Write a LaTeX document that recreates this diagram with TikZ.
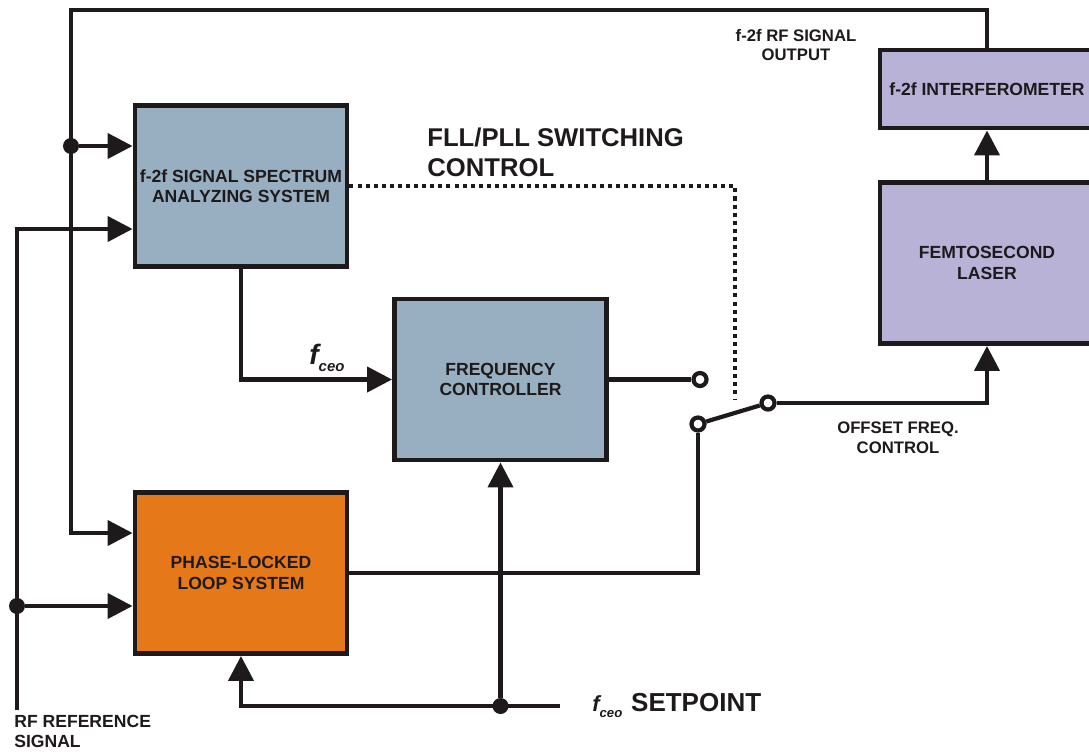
\documentclass[tikz,border=0pt]{standalone}
\usepackage{fontspec}
\setmainfont{Liberation Sans}
\usetikzlibrary{arrows.meta,calc,positioning}
\definecolor{inkc}{HTML}{1E1A1B}
\definecolor{bluebox}{HTML}{97AFC0}
\definecolor{orangebox}{HTML}{E57819}
\definecolor{lilacbox}{HTML}{B9B2D7}
\tikzset{
  blk/.style={rectangle, draw=inkc, line width=2.8pt, minimum width=4.24cm, minimum height=3.22cm, inner sep=1pt, align=center, text=inkc, font=\fontsize{10}{11.5}\selectfont\bfseries},
  sig/.style={draw=inkc, line width=2.4pt},
  arr/.style={sig, -{Triangle[length=0.5cm,width=0.5cm]}},
  swctl/.style={draw=inkc, line width=2.3pt, dash pattern=on 2.3pt off 2.3pt},
  dotv/.style={circle, fill=inkc, inner sep=0pt, minimum size=0.32cm},
  port/.style={circle, draw=inkc, fill=white, line width=2.4pt, inner sep=0pt, minimum size=0.26cm},
  lbl/.style={text=inkc, align=center, font=\fontsize{9.5}{11.3}\selectfont\bfseries},
  biglbl/.style={text=inkc, align=left, inner sep=0pt, font=\fontsize{14.6}{17}\selectfont\bfseries},
  every picture/.style={line cap=butt, line join=miter}
}

\begin{document}
\begin{tikzpicture}[x=0.02cm, y=-0.02cm]
    \clip (0,0) rectangle (1089,751);

    \node[blk, fill=bluebox] (spectrum) at (241,186) {f-2f SIGNAL SPECTRUM\\ANALYZING SYSTEM};
    \node[blk, fill=bluebox] (freqctl) at (500.5,379.5) {FREQUENCY\\CONTROLLER};
    \node[blk, fill=orangebox] (pll) at (241,573) {PHASE-LOCKED\\LOOP SYSTEM};
    \node[blk, fill=lilacbox, minimum width=4.28cm] (laser) at (987,263) {FEMTOSECOND\\LASER};
    \node[blk, fill=lilacbox, minimum width=4.28cm, minimum height=1.56cm] (interf) at (987,89) {f-2f INTERFEROMETER};

    \coordinate (topl) at (71,10);
    \node[dotv] (fbdot) at (71,146) {};
    \coordinate (fbin) at (71,533);
    \coordinate (rfin) at (17,229);
    \node[dotv] (rfdot) at (17,606) {};
    \coordinate (rfend) at (17,710);
    \node[port] (swfll) at (700,379.5) {};
    \node[port] (swpiv) at (698,424) {};
    \node[port] (swout) at (768,403) {};
    \coordinate (swctlend) at (735,400);
    \node[dotv] (spdot) at (500.5,706) {};
    \coordinate (spend) at (560,706);

    \draw[arr] (interf.north) |- (topl) -- (fbin) -- (pll.west |- fbin);
    \draw[arr] (fbdot) -- (spectrum.west |- fbdot);
    \draw[arr] (rfend) -- (rfin) -- (spectrum.west |- rfin);
    \draw[arr] (rfdot) -- (pll.west |- rfdot);
    \draw[arr] (spectrum.south) |- (freqctl.west);
    \draw[sig] (freqctl.east) -- (swfll);
    \draw[sig] (pll.east) -| (swpiv);
    \draw[sig] (swpiv) -- (swout);
    \draw[arr] (swout) -| (laser.south);
    \draw[arr] (laser.north) -- (interf.south);
    \draw[swctl] (spectrum.east) -| (swctlend);
    \draw[arr] (spend) -| (pll.south);
    \draw[arr] (spdot) -- (freqctl.south);

    \node[lbl] (outlbl) at (796,45) {f-2f RF SIGNAL\\OUTPUT};
    \node[lbl] (offlbl) at (898,438) {OFFSET FREQ.\\CONTROL};
    \node[lbl, align=left, anchor=north west, inner sep=0pt, font=\fontsize{10}{11.3}\selectfont\bfseries] (rflbl) at (14,715) {RF REFERENCE\\SIGNAL};
    \node[biglbl, anchor=north west] (swlbl) at (427,128) {FLL/PLL SWITCHING\\CONTROL};
    \node[text=inkc, anchor=base west, inner sep=0pt, font=\bfseries\itshape] (fceolbl) at (309,364) {{\fontsize{16}{16}\selectfont f}\raisebox{-4.5pt}{\fontsize{8.5}{8.5}\selectfont ceo}};
    \node[text=inkc, anchor=base west, inner sep=0pt, font=\bfseries] (setlbl) at (592,711) {{\fontsize{12.5}{12.5}\selectfont\itshape f}\raisebox{-3.5pt}{\fontsize{7.5}{7.5}\selectfont\itshape ceo}\hspace{5pt}{\fontsize{14.8}{14.8}\selectfont SETPOINT}};
\end{tikzpicture}
\end{document}
